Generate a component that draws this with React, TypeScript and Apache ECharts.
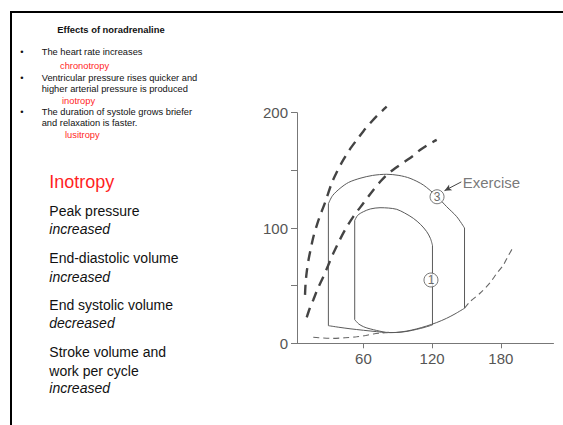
import React, { useEffect, useRef } from 'react';
import * as echarts from 'echarts';

const FONT = '"Liberation Sans", Arial, Helvetica, sans-serif';
const RED = '#ff1f1f';
const INK = '#111111';

// axis ticks
const xTickValues = [60, 120, 180];
const yTickLabels = [0, 100, 200];

// Control loop (1)
const controlContraction: number[][] = [[52.4, 20.5], [52.4, 106.5]];
const controlEjection: number[][] = [
  [52.4, 106.5], [55, 111], [59.9, 114.1], [66, 116.5], [74.5, 117.6], [82, 117.3],
  [89.1, 116.2], [96, 113], [103.6, 108.4], [110, 103], [115.3, 96.8], [118.5, 91], [120.3, 85],
];
const controlRelaxation: number[][] = [[120.3, 85], [120.3, 15.9]];
const controlFilling: number[][] = [
  [120.3, 15.9], [113, 13.7], [106.5, 12.1], [99, 10.5], [92, 9.6], [86, 9.3], [80.3, 9.4],
  [74, 10.6], [68.7, 11.8], [63, 13.3], [59.9, 14.5], [56, 16.7], [52.4, 20.5],
];

// Exercise loop (3)
const exerciseContraction: number[][] = [[29.4, 15.3], [29.4, 121]];
const exerciseEjection: number[][] = [
  [29.4, 121], [33, 128], [39.6, 134.4], [47, 139.5], [57, 143.1], [68, 145.6], [80.3, 146.6],
  [91, 145.6], [100.7, 143.1], [112.3, 137.3], [124, 127.5], [132.7, 118.5], [141.5, 109.8], [148.3, 100],
];
const exerciseRelaxation: number[][] = [[148.3, 100], [148.3, 30.4]];
const exerciseFilling: number[][] = [
  [148.3, 30.4], [140, 25.5], [132.7, 21.7], [124, 18], [115.2, 15], [106.5, 12.5], [97.8, 10.6],
  [88, 9.4], [80, 9.3], [71.6, 10.1], [60, 11.3], [48.3, 12.6], [38, 14], [29.4, 15.3],
];

// End-systolic pressure-volume relations (thick dashed)
const espvrExercise: number[][] = [
  [9, 42], [9.5, 52], [10.5, 62], [12, 72], [14, 82], [16.5, 93], [19.5, 103], [23, 113],
  [26.5, 122], [32.3, 138.8], [37, 149], [42.4, 159], [48, 168], [54.1, 176.3], [60, 184],
  [65.8, 190.8], [72, 197.5], [80.3, 205.2],
];
const espvrControl: number[][] = [
  [10.5, 22.5], [13, 30], [16.2, 37.6], [20, 47], [25, 57.8], [29, 67], [33.7, 78], [38.5, 88],
  [43.9, 98.3], [51.2, 109.9], [59.9, 121.4], [68.7, 133], [75, 140.5], [80.3, 146], [88, 152],
  [96, 157.5], [103.6, 162.8], [109.4, 167.6], [116, 172], [124, 176.4],
];

// End-diastolic pressure-volume relation (thin dashed)
const edpvrLow: number[][] = [
  [16.2, 5.2], [25, 4.6], [33.7, 4.3], [44, 4.8], [54.1, 5.7], [62, 6.8], [68.7, 8.1], [76, 9], [83, 9.5],
];
const edpvrHigh: number[][] = [
  [148.3, 30.4], [153.1, 36.1], [161.8, 43.4], [170.6, 52.6], [176, 60], [182.2, 67.9], [186, 75], [191, 83.8],
];

// Annotations
const loopMarkers = [
  { name: '3', value: [124.3, 127.1] },
  { name: '1', value: [119, 54.9] },
];
const exerciseLabelPoint = [145.8, 139.8];
const exerciseArrowFrom = [145.5, 140];
const exerciseArrowTo = [130.8, 132.4];

// Slide texts
const slideTitle = 'Effects of noradrenaline';
const bulletLines = [
  { text: 'The heart rate increases', bullet: true, red: false },
  { text: 'chronotropy', bullet: false, red: true },
  { text: 'Ventricular pressure rises quicker and', bullet: true, red: false },
  { text: 'higher arterial pressure is produced', bullet: false, red: false },
  { text: 'inotropy', bullet: false, red: true },
  { text: 'The duration of systole grows briefer', bullet: true, red: false },
  { text: 'and relaxation is faster.', bullet: false, red: false },
  { text: 'lusitropy', bullet: false, red: true },
];
const bulletY = [52.3, 65.7, 78.3, 89, 100.7, 112.3, 123.3, 135];
const redIndent = [60, 62, 65];

const heading = 'Inotropy';
const bodyLines = [
  { text: 'Peak pressure', italic: false },
  { text: 'increased', italic: true },
  { text: 'End-diastolic volume', italic: false },
  { text: 'increased', italic: true },
  { text: 'End systolic volume', italic: false },
  { text: 'decreased', italic: true },
  { text: 'Stroke volume and', italic: false },
  { text: 'work per cycle', italic: false },
  { text: 'increased', italic: true },
];
const bodyY = [211, 229.3, 258.3, 276.7, 305, 323.3, 351.7, 370.7, 388.3];

function buildGraphics() {
  const els: any[] = [];
  els.push({ type: 'rect', shape: { x: 10, y: 11, width: 553, height: 2 }, style: { fill: '#000' }, silent: true });
  els.push({ type: 'rect', shape: { x: 10, y: 11, width: 2, height: 414 }, style: { fill: '#000' }, silent: true });
  els.push({
    type: 'text', x: 57.3, y: 29,
    style: { text: slideTitle, font: `bold 9.4px ${FONT}`, fill: INK, align: 'left', verticalAlign: 'middle' },
  });
  let redIdx = 0;
  bulletLines.forEach((l, i) => {
    const y = bulletY[i];
    if (l.bullet) {
      els.push({
        type: 'text', x: 20.3, y,
        style: { text: '•', font: `9.3px ${FONT}`, fill: INK, align: 'left', verticalAlign: 'middle' },
      });
    }
    const x = l.red ? redIndent[redIdx++] : 41.7;
    els.push({
      type: 'text', x, y,
      style: { text: l.text, font: `9.3px ${FONT}`, fill: l.red ? RED : INK, align: 'left', verticalAlign: 'middle' },
    });
  });
  els.push({
    type: 'text', x: 49.3, y: 181.7,
    style: { text: heading, font: `18px ${FONT}`, fill: RED, align: 'left', verticalAlign: 'middle' },
  });
  bodyLines.forEach((l, i) => {
    els.push({
      type: 'text', x: 49.3, y: bodyY[i],
      style: {
        text: l.text, font: `${l.italic ? 'italic ' : ''}14px ${FONT}`, fill: INK,
        align: 'left', verticalAlign: 'middle',
      },
    });
  });
  return els;
}

const loopStyle = { color: '#5a5a5a', width: 1 };
const thickDash = { color: '#444', width: 2.4, type: [10, 7] as number[] };
const thinDash = { color: '#666', width: 1.1, type: [6, 4] as number[] };

function line(data: number[][], style: any, smooth: number | boolean = false) {
  return {
    type: 'line', data, symbol: 'none', smooth, lineStyle: style, silent: true, clip: false, z: 2,
  };
}

export default function App() {
  const ref = useRef<HTMLDivElement>(null);
  useEffect(() => {
    const chart = echarts.init(ref.current!, null, { renderer: 'svg' });
    chart.setOption({
      animation: false,
      backgroundColor: '#ffffff',
      grid: { left: 297, top: 112.7, width: 256.5, height: 230.6 },
      xAxis: {
        type: 'value', min: 2, max: 226,
        axisLine: { show: true, onZero: false, lineStyle: { color: '#777', width: 1 } },
        axisTick: { show: true, customValues: xTickValues, length: 5, lineStyle: { color: '#777' } },
        axisLabel: { customValues: xTickValues, fontSize: 15, color: '#555', fontFamily: FONT, margin: 8 },
        splitLine: { show: false },
      },
      yAxis: {
        type: 'value', min: 0, max: 200, interval: 50,
        axisLine: { show: true, onZero: false, lineStyle: { color: '#777', width: 1 } },
        axisTick: { show: true, length: 6, lineStyle: { color: '#777' } },
        axisLabel: {
          fontSize: 15, color: '#555', fontFamily: FONT, margin: 9,
          formatter: (v: number) => (yTickLabels.includes(v) ? String(v) : ''),
        },
        splitLine: { show: false },
      },
      graphic: buildGraphics(),
      series: [
        line(controlContraction, loopStyle),
        line(controlEjection, loopStyle, 0.3),
        line(controlRelaxation, loopStyle),
        line(controlFilling, loopStyle, 0.3),
        line(exerciseContraction, loopStyle),
        line(exerciseEjection, loopStyle, 0.3),
        line(exerciseRelaxation, loopStyle),
        line(exerciseFilling, loopStyle, 0.3),
        line(espvrExercise, thickDash, 0.3),
        line(espvrControl, thickDash, 0.3),
        line(edpvrLow, thinDash, 0.3),
        line(edpvrHigh, thinDash, 0.3),
        {
          type: 'scatter', data: loopMarkers, symbol: 'circle', symbolSize: 14, z: 5, silent: true,
          itemStyle: { color: '#fff', borderColor: '#555', borderWidth: 1 },
          label: { show: true, position: 'inside', formatter: '{b}', fontSize: 12, color: '#444', fontFamily: FONT },
        },
        {
          type: 'scatter', data: [{ name: 'Exercise', value: exerciseLabelPoint }], symbolSize: 0, z: 5, silent: true,
          label: { show: true, position: 'right', distance: 1, formatter: '{b}', fontSize: 15, color: '#555', fontFamily: FONT },
          markLine: {
            silent: true, symbol: ['none', 'arrow'], symbolSize: [5, 7],
            lineStyle: { color: '#444', width: 1, type: 'solid' }, label: { show: false },
            data: [[{ coord: exerciseArrowFrom }, { coord: exerciseArrowTo }]],
          },
        },
      ],
    });
    return () => chart.dispose();
  }, []);
  return (
    <div
      ref={ref}
      style={{ position: 'fixed', left: 0, top: 0, width: 563, height: 425, background: '#fff' }}
    />
  );
}
